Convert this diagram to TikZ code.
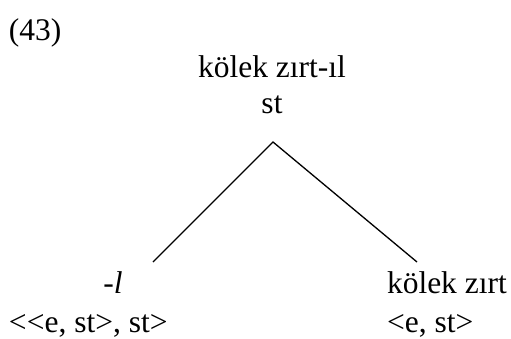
\documentclass[tikz,border=0pt]{standalone}
\usepackage{fontspec}
\setmainfont{Liberation Serif}[Ligatures=TeXOff]
\begin{document}
\begin{tikzpicture}[x=1pt,y=-1pt,
  lbl/.style={inner sep=0pt,outer sep=0pt,font=\fontsize{31.5}{36}\selectfont},
  branch/.style={line width=1.3pt}]
\useasboundingbox (0,0) rectangle (511,338);
\node[lbl,anchor=base west] (num) at (9,40) {(43)};
\node[lbl,anchor=base] (root) at (272,77) {kölek zırt-ıl};
\node[lbl,anchor=base] (roottype) at (272,113) {st};
\coordinate (apex) at (273,142);
\coordinate (lend) at (153,262);
\coordinate (rend) at (417,262);
\node[lbl,anchor=base] (left) at (113,293) {\itshape -l};
\node[lbl,anchor=base west] (lefttype) at (9,332) {<<e, st>, st>};
\node[lbl,anchor=base west] (right) at (387,293) {kölek zırt};
\node[lbl,anchor=base west] (righttype) at (387,332) {<e, st>};
\draw[branch] (lend) -- (apex) -- (rend);
\end{tikzpicture}
\end{document}
